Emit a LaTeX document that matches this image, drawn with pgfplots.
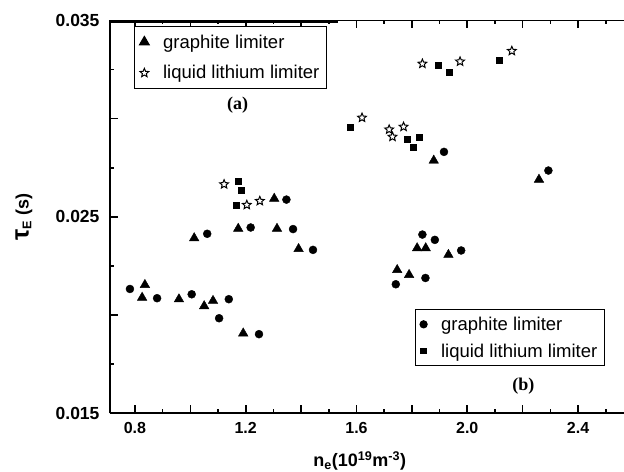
\documentclass[border=0pt]{standalone}
\usepackage{fontspec}
\setmainfont{Liberation Sans}
\newfontfamily\tnr{Liberation Serif}
\usepackage{pgfplots}
\pgfplotsset{compat=1.18}

% hollow five-pointed star
\pgfdeclareplotmark{ostar}{%
  \pgfpathmoveto{\pgfpointpolar{90}{\pgfplotmarksize}}%
  \pgfpathlineto{\pgfpointpolar{126}{0.45\pgfplotmarksize}}%
  \pgfpathlineto{\pgfpointpolar{162}{\pgfplotmarksize}}%
  \pgfpathlineto{\pgfpointpolar{198}{0.45\pgfplotmarksize}}%
  \pgfpathlineto{\pgfpointpolar{234}{\pgfplotmarksize}}%
  \pgfpathlineto{\pgfpointpolar{270}{0.45\pgfplotmarksize}}%
  \pgfpathlineto{\pgfpointpolar{306}{\pgfplotmarksize}}%
  \pgfpathlineto{\pgfpointpolar{342}{0.45\pgfplotmarksize}}%
  \pgfpathlineto{\pgfpointpolar{18}{\pgfplotmarksize}}%
  \pgfpathlineto{\pgfpointpolar{54}{0.45\pgfplotmarksize}}%
  \pgfpathclose
  \pgfusepathqfillstroke
}

\pgfplotsset{
  frame/.style={
    scale only axis, width=514pt, height=392.8pt,
    xmin=0.71, xmax=2.566, ymin=0.015, ymax=0.035,
  },
  legbox/.style={
    anchor=north west, draw=black, line width=1.2pt,
    font=\fontsize{18.5}{18.5}\selectfont,
    inner xsep=5pt,
    /tikz/every odd column/.append style={column sep=12pt},
  },
}

\begin{document}
\begin{tikzpicture}
\begin{axis}[
  frame, name=main,
  axis x line=box, axis y line=left,
  y axis line style={-},
  axis line style={line width=1.6pt},
  tick style={line width=1.6pt, black},
  tick align=inside,
  major tick length=8pt, minor tick length=4pt,
  scaled y ticks=false,
  xtick={0.8,1.0,1.2,1.4,1.6,1.8,2.0,2.2,2.4},
  xticklabels={0.8,,1.2,,1.6,,2.0,,2.4},
  minor xtick={0.9,1.1,1.3,1.5,1.7,1.9,2.1,2.3,2.5},
  ytick={0.015,0.02,0.025,0.03,0.035},
  yticklabels={0.015,,0.025,,0.035},
  minor ytick={0.0175,0.0225,0.0275,0.0325},
  xticklabel style={font=\bfseries\fontsize{16}{16}\selectfont, yshift=-6pt},
  yticklabel style={font=\bfseries\fontsize{17.5}{17.5}\selectfont, xshift=-7pt},
  xlabel={n\textsubscript{e}(10\textsuperscript{19}m\textsuperscript{-3})},
  xlabel style={font=\bfseries\fontsize{18}{18}\selectfont, at={(axis description cs:0.486,-0.121)}, anchor=center},
  ylabel={{\fontsize{25}{25}\selectfont τ}\textsubscript{E} (s)},
  ylabel style={font=\bfseries\fontsize{18}{18}\selectfont, at={(axis description cs:-0.1673,0.5)}, anchor=center},
  clip=false,
  legend style={legbox, inner ysep=6pt, row sep=12pt, at={(axis description cs:0.0467,0.986)}},
  legend cell align=left,
]
% graphite limiter (a)
\addplot[only marks, mark=triangle*, mark size=5.5pt, black] coordinates {
  (0.836,0.02154) (0.826,0.02089) (0.959,0.02081) (1.050,0.02046)
  (1.082,0.02073) (1.191,0.01907) (1.014,0.02392) (1.173,0.02440)
  (1.313,0.02440) (1.391,0.02337) (1.303,0.02593) (1.879,0.02787)
  (2.259,0.02690) (1.819,0.02341) (1.850,0.02341) (1.932,0.02307)
  (1.747,0.02230) (1.790,0.02205)
};
\addlegendentry{graphite limiter}
% liquid lithium limiter (a)
\addplot[only marks, mark=ostar, mark size=4.6pt, mark options={draw=black, fill=white, line width=1pt}] coordinates {
  (1.122,0.02666) (1.204,0.02561) (1.251,0.02581) (1.620,0.03005)
  (1.718,0.02945) (1.730,0.02908) (1.770,0.02959) (1.838,0.03280)
  (1.974,0.03291) (2.161,0.03345)
};
\addlegendentry{liquid lithium limiter}
% graphite limiter (b)
\addplot[only marks, mark=*, mark size=4pt, black, forget plot] coordinates {
  (0.782,0.02133) (0.880,0.02086) (1.005,0.02106) (1.139,0.02081)
  (1.104,0.01984) (1.248,0.01903) (1.061,0.02414) (1.218,0.02446)
  (1.371,0.02438) (1.443,0.02332) (1.347,0.02588) (1.916,0.02831)
  (2.293,0.02736) (1.838,0.02410) (1.883,0.02383) (1.978,0.02329)
  (1.742,0.02157) (1.849,0.02189)
};
% liquid lithium limiter (b)
\addplot[only marks, mark=square*, mark size=3pt, black, forget plot] coordinates {
  (1.173,0.02683) (1.185,0.02634) (1.164,0.02561) (1.579,0.02959)
  (1.784,0.02898) (1.827,0.02908) (1.806,0.02857) (1.896,0.03270)
  (1.936,0.03238) (2.117,0.03299)
};
\node[font=\tnr\bfseries\fontsize{18}{18}\selectfont] at (axis cs:1.171,0.0307) {(a)};
\node[font=\tnr\bfseries\fontsize{18}{18}\selectfont] at (axis cs:2.203,0.01639) {(b)};
\draw[line width=2pt] ([yshift=-1.6pt]axis description cs:0,1) -- ([yshift=-1.6pt]axis description cs:0.4436,1);
\end{axis}

\begin{axis}[
  frame, hide axis,
  legend style={legbox, inner ysep=5pt, row sep=8pt, at={(axis description cs:0.5924,0.2648)}},
  legend cell align=left,
]
\addlegendimage{only marks, mark=*, mark size=3.5pt, black}
\addlegendentry{graphite limiter}
\addlegendimage{only marks, mark=square*, mark size=2.6pt, black}
\addlegendentry{liquid lithium limiter}
\end{axis}

\pgfresetboundingbox
\path ([xshift=-110pt,yshift=-58.7pt]main.south west) rectangle ([yshift=20.5pt]main.north east);
\end{tikzpicture}
\end{document}
